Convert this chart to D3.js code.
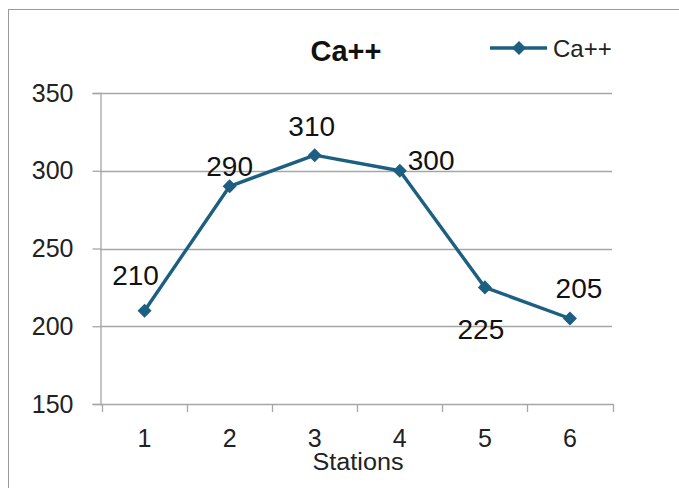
<!DOCTYPE html>
<html>
<head>
<meta charset="utf-8">
<script src="https://cdn.jsdelivr.net/npm/d3@7"></script>
<style>
  html, body { margin: 0; padding: 0; background: #fff; }
  svg { display: block; font-family: "Liberation Sans", Arial, sans-serif; }
</style>
</head>
<body>
<svg id="chart" width="679" height="488"></svg>
<script>
// Calcium concentration per sampling station
const stations = [1, 2, 3, 4, 5, 6];
const caValues = [210, 290, 310, 300, 225, 205];
const yTicks = [150, 200, 250, 300, 350];
// where each value label sits relative to its point
const labelPlacement = ["above-left", "above", "top", "right", "below", "above-right"];

const svg = d3.select("#chart");
const W = 679, H = 488;
const margin = { left: 100, right: 67, top: 93, bottom: 84 };
const lineColor = "#1d5f80";
const gridColor = "#a6a6a6";
const font = "Liberation Sans, Arial, sans-serif";

// chart frame
svg.append("rect")
  .attr("x", 8.5).attr("y", 9.5)
  .attr("width", W + 10).attr("height", H + 10)
  .attr("fill", "none").attr("stroke", "#9a9a9a").attr("stroke-width", 1);

const x = d3.scaleBand()
  .domain(stations)
  .range([margin.left + 2, W - margin.right + 0.5])
  .padding(0);

const y = d3.scaleLinear()
  .domain([150, 350])
  .range([H - margin.bottom, margin.top]);

// horizontal gridlines
svg.append("g").selectAll("line")
  .data(yTicks.slice(1))
  .join("line")
  .attr("x1", margin.left).attr("x2", W - margin.right)
  .attr("y1", d => Math.round(y(d)) + 0.5).attr("y2", d => Math.round(y(d)) + 0.5)
  .attr("stroke", gridColor).attr("stroke-width", 1.3);

// y axis
const yAxis = svg.append("g")
  .attr("transform", `translate(${margin.left + 0.5},0)`)
  .call(d3.axisLeft(y).tickValues(yTicks).tickSize(8).tickPadding(19));
yAxis.select(".domain").attr("stroke", gridColor).attr("stroke-width", 1.3);
yAxis.selectAll(".tick line").attr("stroke", gridColor).attr("stroke-width", 1.3);
yAxis.selectAll(".tick text")
  .attr("font-size", 25).attr("fill", "#222").attr("font-family", font);

// x axis
const xAxis = svg.append("g")
  .attr("transform", `translate(0,${Math.round(y(150)) + 0.5})`)
  .call(d3.axisBottom(x).tickSize(0).tickPadding(25));
xAxis.select(".domain").attr("stroke", gridColor).attr("stroke-width", 1.3)
  .attr("d", `M${margin.left},0H${W - margin.right + 1}`);
xAxis.selectAll(".tick text")
  .attr("font-size", 25).attr("fill", "#222").attr("font-family", font);

// category boundary ticks
const bounds = stations.map(s => x(s)).concat([x(stations[stations.length - 1]) + x.bandwidth()]);
svg.append("g").selectAll("line")
  .data(bounds)
  .join("line")
  .attr("x1", d => Math.round(d) + 0.5).attr("x2", d => Math.round(d) + 0.5)
  .attr("y1", Math.round(y(150))).attr("y2", Math.round(y(150)) + 8)
  .attr("stroke", gridColor).attr("stroke-width", 1.3);

// axis title
svg.append("text")
  .attr("x", 358).attr("y", 470)
  .attr("text-anchor", "middle")
  .attr("font-size", 23).attr("fill", "#222")
  .attr("textLength", 91).attr("lengthAdjust", "spacingAndGlyphs")
  .text("Stations");

// chart title
svg.append("text")
  .attr("x", 346).attr("y", 61)
  .attr("text-anchor", "middle")
  .attr("font-size", 29).attr("font-weight", "bold").attr("fill", "#111")
  .text("Ca++");

// data line
const data = stations.map((s, i) => ({ s, v: caValues[i], pos: labelPlacement[i] }));
const cx = d => x(d.s) + x.bandwidth() / 2;

svg.append("path")
  .datum(data)
  .attr("fill", "none")
  .attr("stroke", lineColor)
  .attr("stroke-width", 3.4)
  .attr("stroke-linejoin", "round")
  .attr("d", d3.line().x(cx).y(d => y(d.v)));

const diamond = d3.symbol().type(d3.symbolDiamond2).size(125);
svg.append("g").selectAll("path")
  .data(data)
  .join("path")
  .attr("transform", d => `translate(${cx(d)},${y(d.v)})`)
  .attr("d", diamond)
  .attr("fill", lineColor);

// value labels: [dx, dy, anchor] relative to the point
const offsets = {
  "above-left": [-9, -26, "middle"],
  "above": [0, -10, "middle"],
  "top": [-3, -19, "middle"],
  "right": [8, -1, "start"],
  "below": [-4, 52, "middle"],
  "above-right": [9, -20, "middle"]
};
svg.append("g").selectAll("text")
  .data(data)
  .join("text")
  .attr("x", d => cx(d) + offsets[d.pos][0])
  .attr("y", d => y(d.v) + offsets[d.pos][1])
  .attr("text-anchor", d => offsets[d.pos][2])
  .attr("font-size", 28).attr("fill", "#111")
  .text(d => d.v);

// legend
const lg = svg.append("g").attr("transform", "translate(490,48)");
lg.append("line").attr("x1", 0).attr("x2", 57).attr("y1", 0).attr("y2", 0)
  .attr("stroke", lineColor).attr("stroke-width", 3.4);
lg.append("path").attr("transform", "translate(29,0)").attr("d", diamond).attr("fill", lineColor);
lg.append("text").attr("x", 63).attr("y", 9)
  .attr("font-size", 24).attr("fill", "#222")
  .text("Ca++");
</script>
</body>
</html>
